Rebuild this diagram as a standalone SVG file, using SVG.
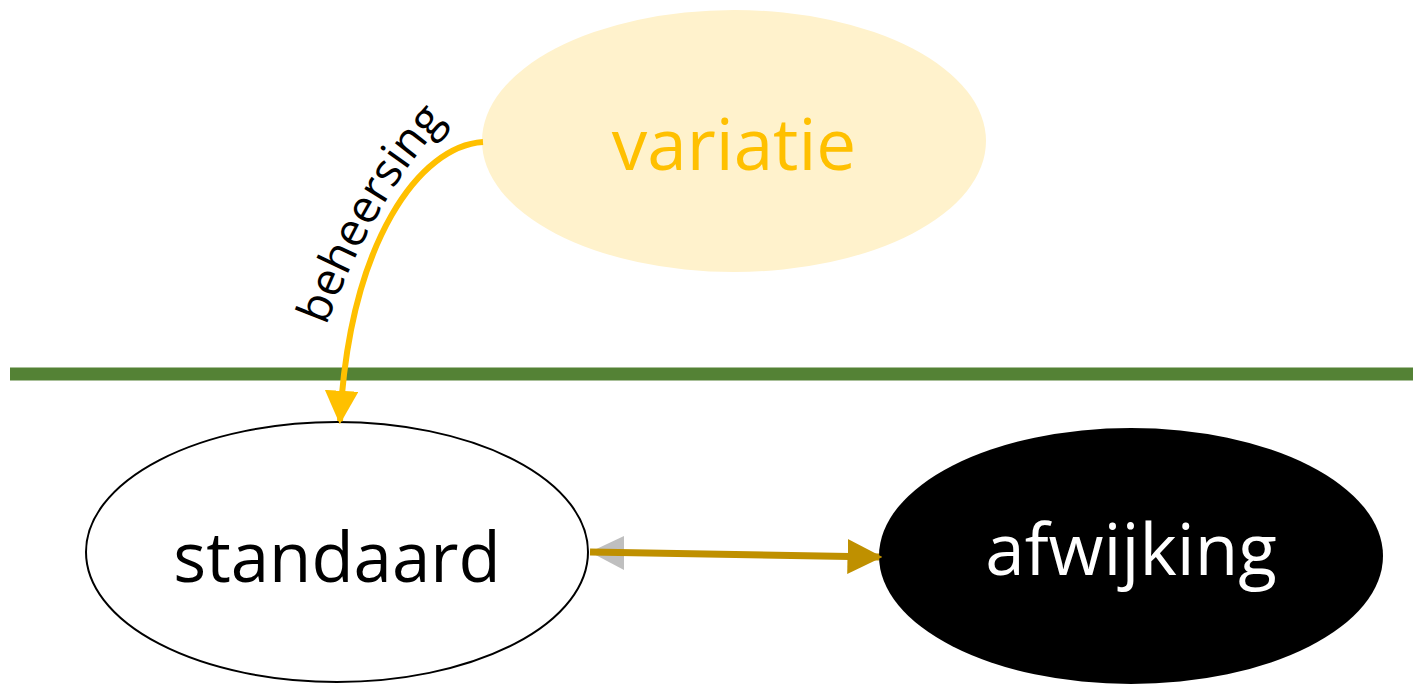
<svg xmlns="http://www.w3.org/2000/svg" width="1413" height="684" viewBox="0 0 1413 684">
<style>
.lbl{font-family:"Open Sans","Liberation Sans",sans-serif;text-anchor:middle}
</style>
<defs>
<marker id="ahY" viewBox="0 0 10 10" refX="9" refY="5" markerWidth="5.6" markerHeight="5.6" markerUnits="strokeWidth" orient="auto"><path d="M0,0L10,5L0,10z" fill="#FFC000"/></marker>
<marker id="ahG" viewBox="0 0 10 10" refX="9" refY="5" markerWidth="5" markerHeight="5" markerUnits="strokeWidth" orient="auto"><path d="M0,0L10,5L0,10z" fill="#BF9000"/></marker>
<path id="lblPath" d="M324,332 Q374,196 450,116"/>
</defs>
<rect width="1413" height="684" fill="#fff"/>
<line x1="10" y1="374" x2="1413" y2="374" stroke="#548235" stroke-width="13"/>
<g id="variatie">
<ellipse cx="734" cy="141" rx="252" ry="131" fill="#FFF2CC"/>
<text class="lbl" x="734" y="170" font-size="71" fill="#FFC000">variatie</text>
</g>
<g id="standaard">
<ellipse cx="337" cy="552" rx="251" ry="130" fill="#fff" stroke="#000" stroke-width="2"/>
<text class="lbl" x="337" y="582" font-size="69" fill="#000">standaard</text>
</g>
<g id="afwijking">
<ellipse cx="1131" cy="556" rx="252" ry="128" fill="#000"/>
<text class="lbl" x="1131" y="575" font-size="71" fill="#fff">afwijking</text>
</g>
<g id="connectors">
<path d="M483,142 C420,146 350,240 340,421" fill="none" stroke="#FFC000" stroke-width="6" marker-end="url(#ahY)"/>
<text class="lbl" font-size="46" fill="#000"><textPath href="#lblPath" startOffset="50%">beheersing</textPath></text>
<polygon points="590,552 624,536 624,570" fill="#BFBFBF"/>
<line x1="590" y1="552" x2="879" y2="557" stroke="#BF9000" stroke-width="7" marker-end="url(#ahG)"/>
</g>
</svg>
